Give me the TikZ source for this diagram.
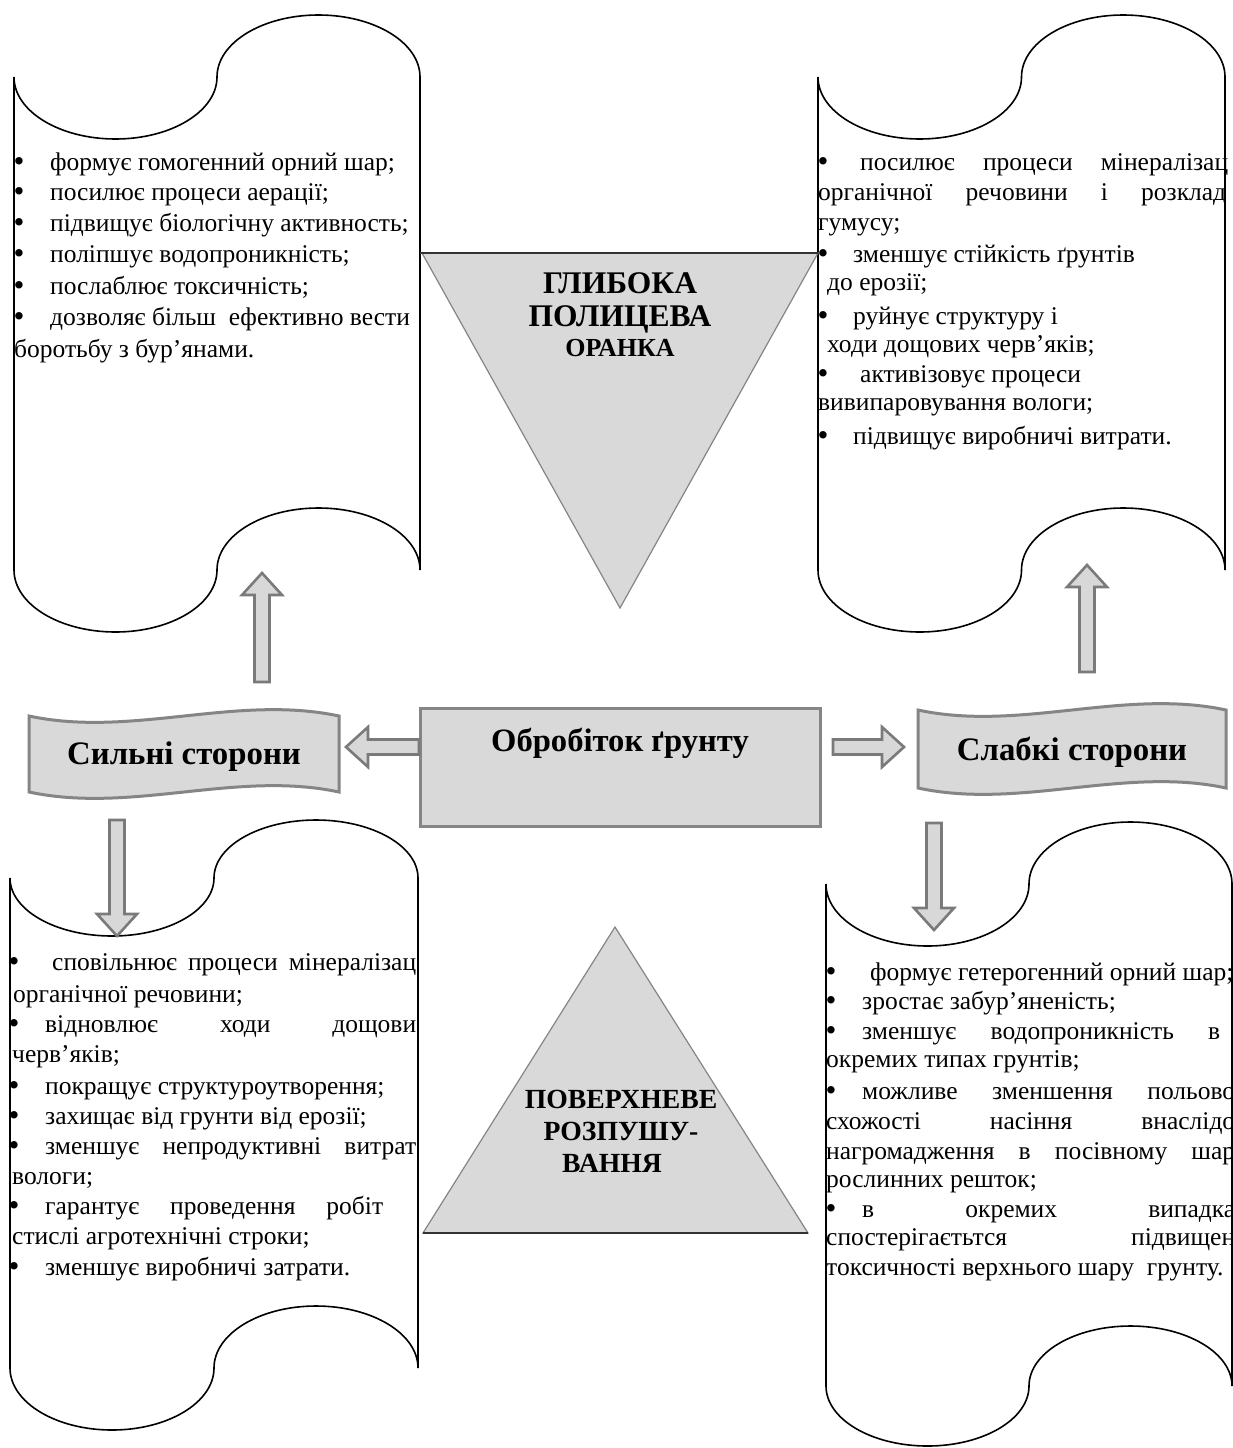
\documentclass[tikz,border=0pt]{standalone}
\usepackage{fontspec}
\setmainfont{DejaVu Serif}
\newfontfamily\tms{LiberationSerif-Regular.ttf}[BoldFont=LiberationSerif-Bold.ttf]
\usetikzlibrary{calc}
\definecolor{shapefill}{HTML}{D9D9D9}
\definecolor{shapeedge}{HTML}{858585}
\definecolor{arrowfill}{HTML}{D8D8D8}
\definecolor{arrowedge}{HTML}{7A7A7A}
\newcommand{\bodyfont}{\tms\fontsize{25.5}{30}\selectfont}
\newcommand{\J}[2]{\makebox[#1pt][s]{#2}}
\newcommand{\tapepath}[6]{%
  \draw[tape] (#1,#3)
    arc[start angle=180,end angle=0,x radius={(#2-#1)/4},y radius=#5]
    arc[start angle=180,end angle=360,x radius={(#2-#1)/4},y radius=#5]
    -- (#2,#4)
    arc[start angle=0,end angle=-180,x radius={(#2-#1)/4},y radius=#6]
    arc[start angle=0,end angle=180,x radius={(#2-#1)/4},y radius=#6]
    -- cycle;}
\tikzset{
  tape/.style={draw=black, line width=1.6pt, fill=white},
  txt/.style={anchor=base west, inner sep=0pt, font=\bodyfont},
  bul/.style={anchor=base, inner sep=0pt, font=\tms\fontsize{31}{30}\selectfont},
  banner/.style={draw=shapeedge, line width=3pt, fill=shapefill},
  bannertxt/.style={font=\tms\fontsize{32.8}{38}\selectfont\bfseries, inner sep=0pt, anchor=base},
  mainbox/.style={draw=shapeedge, line width=3pt, fill=shapefill, minimum width=400pt,
     inner sep=0pt, text height=43pt, text depth=75pt, font=\tms\fontsize{32.6}{38}\selectfont\bfseries},
  tri/.style={draw=shapeedge, line width=1.2pt, fill=shapefill},
  tribase/.style={draw=black!80, line width=1.6pt},
  tritxt/.style={font=\tms\fontsize{31.5}{35}\selectfont\bfseries, inner sep=0pt, anchor=base},
  tritxtsmall/.style={font=\tms\fontsize{26}{30}\selectfont\bfseries, inner sep=0pt, anchor=base},
  tritxtb/.style={font=\tms\fontsize{27.7}{32}\selectfont\bfseries, inner sep=0pt, anchor=base},
  blockarrow/.style={draw=arrowedge, fill=arrowfill, line width=2.6pt, line join=miter,
    to path={
      ($(\tikztotarget)!22pt!(\tikztostart)$) coordinate (ahb)
      ($(\tikztostart)!7.5pt!90:(\tikztotarget)$)
      -- ($(ahb)!7.5pt!-90:(\tikztostart)$)
      -- ($(ahb)!20pt!-90:(\tikztostart)$)
      -- (\tikztotarget)
      -- ($(ahb)!20pt!90:(\tikztostart)$)
      -- ($(ahb)!7.5pt!90:(\tikztostart)$)
      -- ($(\tikztostart)!7.5pt!-90:(\tikztotarget)$)
      -- cycle}},
}
\begin{document}
\begin{tikzpicture}[x=1pt,y=-1pt]
\useasboundingbox (0,0) rectangle (1233,1448);
\fill[white] (0,0) rectangle (1233,1448);

% ---------- punched-tape boxes ----------
\tapepath{14}{420}{77}{570}{62}{62}
\tapepath{818}{1225}{77}{570}{62}{62}
\tapepath{10}{418}{878}{1368}{58}{62}
\tapepath{826}{1232}{884}{1386}{62}{60}

% ---------- triangles ----------
\fill[tri] (422,253) -- (818,253) -- (620,608) -- cycle;
\draw[tribase] (420,253) -- (818,253);
\node[tritxt] (deep1) at (620,293) {ГЛИБОКА};
\node[tritxt] (deep2) at (620,326) {ПОЛИЦЕВА};
\node[tritxtsmall] (deep3) at (620,356) {ОРАНКА};

\fill[tri] (615,927) -- (808,1233) -- (423,1233) -- cycle;
\draw[tribase] (423,1233) -- (808,1233);
\node[tritxtb] (surf1) at (621,1108) {ПОВЕРХНЕВЕ};
\node[tritxtb] (surf2) at (621,1140) {РОЗПУШУ-};
\node[tritxtb] (surf3) at (612,1172) {ВАННЯ};

% ---------- central box ----------
\node[mainbox] (main) at (620,767) {Обробіток ґрунту};

% ---------- banners ----------
\begin{scope}[shift={(184,752)}]
  \draw[banner] (-155,-36) .. controls (-52,-14) and (52,-58) .. (155,-36)
     -- (155,40) .. controls (52,18) and (-52,62) .. (-155,40) -- cycle;
\end{scope}
\node[bannertxt] (strong) at (184,764) {Сильні сторони};
\begin{scope}[shift={(1072,748)}]
  \draw[banner] (-154,-38) .. controls (-52,-16) and (52,-60) .. (154,-38)
     -- (154,40) .. controls (52,18) and (-52,62) .. (-154,40) -- cycle;
\end{scope}
\node[bannertxt] (weak) at (1072,760) {Слабкі сторони};

% ---------- block arrows ----------
\coordinate (ltS) at (419,747);  \coordinate (ltE) at (346,747);
\coordinate (rtS) at (833,747);  \coordinate (rtE) at (904,747);
\coordinate (upLs) at (262,682); \coordinate (upLe) at (262,573);
\coordinate (upRs) at (1087,672); \coordinate (upRe) at (1087,565);
\coordinate (dnLs) at (117,820); \coordinate (dnLe) at (117,936);
\coordinate (dnRs) at (934,823); \coordinate (dnRe) at (934,930);
\path[blockarrow] (ltS) to (ltE);
\path[blockarrow] (rtS) to (rtE);
\path[blockarrow] (upLs) to (upLe);
\path[blockarrow] (upRs) to (upRe);
\path[blockarrow] (dnLs) to (dnLe);
\path[blockarrow] (dnRs) to (dnRe);

% ---------- top-left text ----------
\node[bul] (tlb1) at (19,171) {•};
\node[txt] (tl1) at (50,170) {формує гомогенний орний шар;};
\node[bul] (tlb2) at (19,201) {•};
\node[txt] (tl2) at (50,200) {посилює процеси аерації;};
\node[bul] (tlb3) at (19,232) {•};
\node[txt] (tl3) at (50,231) {підвищує біологічну активность;};
\node[bul] (tlb4) at (19,263) {•};
\node[txt] (tl4) at (50,262) {поліпшує водопроникність;};
\node[bul] (tlb5) at (19,295) {•};
\node[txt] (tl5) at (50,294) {послаблює токсичність;};
\node[bul] (tlb6) at (19,326) {•};
\node[txt] (tl6) at (50,325) {дозволяє більш\ \ ефективно вести};
\node[txt] (tl7) at (14,357) {боротьбу з бур’янами.};

% ---------- top-right text ----------
\node[bul] (trb1) at (823,171) {•};
\node[txt] (tr1) at (860,170) {\J{368}{посилює процеси мінералізац}};
\node[txt] (tr2) at (818,200) {\J{408}{органічної речовини і розклад}};
\node[txt] (tr3) at (818,230) {гумусу;};
\node[bul] (trb4) at (823,263) {•};
\node[txt] (tr4) at (853,262) {зменшує стійкість ґрунтів};
\node[txt] (tr5) at (827,290) {до ерозії;};
\node[bul] (trb6) at (823,325) {•};
\node[txt] (tr6) at (853,324) {руйнує структуру і};
\node[txt] (tr7) at (827,352) {ходи дощових черв’яків;};
\node[bul] (trb8) at (823,383) {•};
\node[txt] (tr8) at (860,382) {активізовує процеси};
\node[txt] (tr9) at (818,410) {вивипаровування вологи;};
\node[bul] (trb10) at (823,445) {•};
\node[txt] (tr10) at (853,444) {підвищує виробничі витрати.};

% ---------- bottom-left text ----------
\node[bul] (blb1) at (14,971) {•};
\node[txt] (bl1) at (52,970) {\J{364}{сповільнює процеси мінералізац}};
\node[txt] (bl2) at (13,1002) {органічної речовини;};
\node[bul] (blb3) at (14,1033) {•};
\node[txt] (bl3) at (45,1032) {\J{371}{відновлює ходи дощови}};
\node[txt] (bl4) at (12,1062) {черв’яків;};
\node[bul] (blb5) at (14,1095) {•};
\node[txt] (bl5) at (45,1094) {покращує структуроутворення;};
\node[bul] (blb6) at (14,1125) {•};
\node[txt] (bl6) at (45,1124) {захищає від грунти від ерозії;};
\node[bul] (blb7) at (14,1155) {•};
\node[txt] (bl7) at (45,1154) {\J{371}{зменшує непродуктивні витрат}};
\node[txt] (bl8) at (12,1184) {вологи;};
\node[bul] (blb9) at (14,1215) {•};
\node[txt] (bl9) at (45,1214) {\J{338}{гарантує проведення робіт}};
\node[txt] (bl10) at (12,1244) {стислі агротехнічні строки;};
\node[bul] (blb11) at (14,1276) {•};
\node[txt] (bl11) at (45,1275) {зменшує виробничі затрати.};

% ---------- bottom-right text ----------
\node[bul] (brb1) at (831,981) {•};
\node[txt] (br1) at (870,980) {формує гетерогенний орний шар;};
\node[bul] (brb2) at (831,1010) {•};
\node[txt] (br2) at (862,1009) {зростає забур’яненість;};
\node[bul] (brb3) at (831,1040) {•};
\node[txt] (br3) at (862,1039) {\J{358}{зменшує водопроникність в}};
\node[txt] (br4) at (826,1067) {окремих типах грунтів;};
\node[bul] (brb5) at (831,1100) {•};
\node[txt] (br5) at (862,1099) {\J{373}{можливе зменшення польово}};
\node[txt] (br6) at (826,1129) {\J{409}{схожості насіння внаслідо}};
\node[txt] (br7) at (826,1159) {\J{409}{нагромадження в посівному шар}};
\node[txt] (br8) at (826,1187) {рослинних решток;};
\node[bul] (brb9) at (831,1218) {•};
\node[txt] (br9) at (862,1217) {\J{373}{в окремих випадка}};
\node[txt] (br10) at (826,1245) {\J{409}{спостерігаєтьтся підвищен}};
\node[txt] (br11) at (826,1275) {токсичності верхнього шару\ \ грунту.};
\end{tikzpicture}
\end{document}
